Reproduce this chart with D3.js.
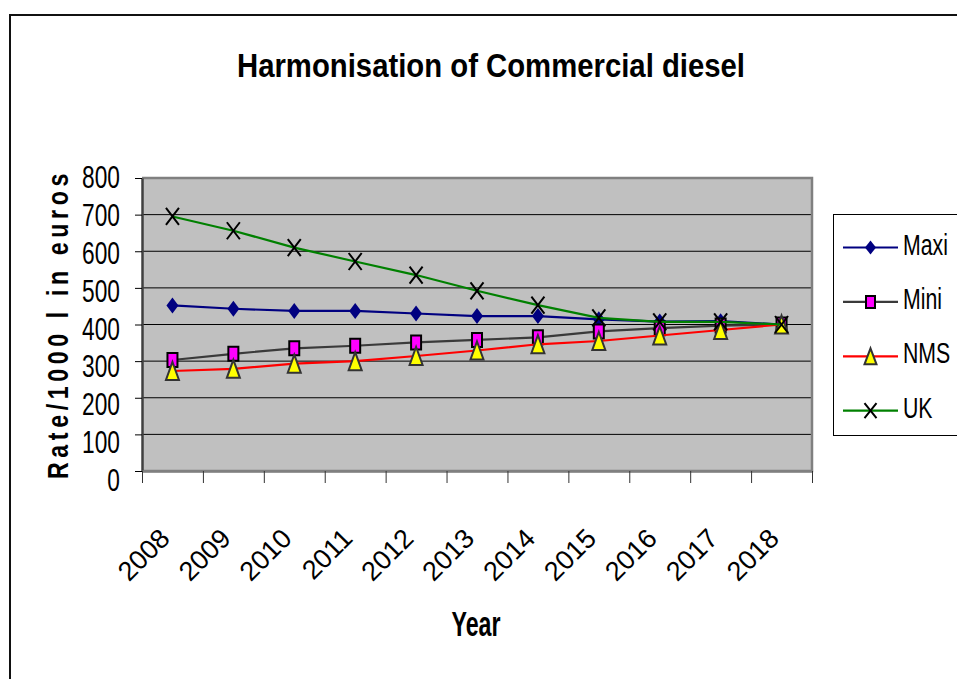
<!DOCTYPE html>
<html>
<head>
<meta charset="utf-8">
<script src="https://cdn.jsdelivr.net/npm/d3@7"></script>
<style>
  body { margin: 0; background: #fff; }
  svg { display: block; }
  text { font-family: "Liberation Sans", Arial, sans-serif; fill: #000; }
</style>
</head>
<body>
<svg id="chart"></svg>
<script>
const years = [2008, 2009, 2010, 2011, 2012, 2013, 2014, 2015, 2016, 2017, 2018];
const maxi = [452, 443, 437, 437, 430, 423, 423, 414, 408, 409, 400];
const mini = [303, 320, 335, 342, 351, 358, 365, 381, 390, 397, 400];
const nms = [273, 279, 293, 300, 314, 329, 346, 355, 370, 385, 400];
const uk = [695, 656, 610, 572, 535, 492, 453, 418, 407, 407, 400];
const seriesNames = ["Maxi", "Mini", "NMS", "UK"];
const yTicks = [0, 100, 200, 300, 400, 500, 600, 700, 800];

const width = 957;
const height = 679;
const plot = { left: 142, right: 812, top: 178, bottom: 471 };

// the original text is horizontally compressed: squeeze by a factor
function squeeze(sel, k) {
  sel.each(function () {
    const w = this.getComputedTextLength();
    d3.select(this).attr("textLength", w * k).attr("lengthAdjust", "spacingAndGlyphs");
  });
}
// or force to a given width
function fitTo(sel, w) {
  sel.attr("textLength", w).attr("lengthAdjust", "spacingAndGlyphs");
}

// marker shapes
const markers = {
  diamond: (w, h) => `M0,${-h / 2}L${w / 2},0L0,${h / 2}L${-w / 2},0Z`,
  square: (w, h) => `M${-w / 2},${-h / 2}h${w}v${h}h${-w}Z`,
  triangle: (w, h) => `M0,${-h / 2}L${w / 2},${h / 2}L${-w / 2},${h / 2}Z`,
  cross: (w, h) => `M${-w / 2},${-h / 2}L${w / 2},${h / 2}M${w / 2},${-h / 2}L${-w / 2},${h / 2}`,
};

const series = [
  { name: seriesNames[0], values: maxi, color: "#000080", shape: "diamond", w: 12, h: 16, fill: "#000080", stroke: "none" },
  { name: seriesNames[1], values: mini, color: "#3a3a3a", shape: "square", w: 10, h: 14, fill: "#ff00ff", stroke: "#000" },
  { name: seriesNames[2], values: nms, color: "#ff0000", shape: "triangle", w: 13, h: 18, fill: "#ffff00", stroke: "#333" },
  { name: seriesNames[3], values: uk, color: "#008000", shape: "cross", w: 13, h: 17, fill: "none", stroke: "#000" },
];

const svg = d3.select("#chart").attr("width", width).attr("height", height);

// outer frame
svg.append("path")
  .attr("d", `M10,${height}V15H${width}`)
  .attr("fill", "none")
  .attr("stroke", "#111")
  .attr("stroke-width", 2);

// scales
const xScale = d3.scaleBand().domain(years).range([plot.left, plot.right]);
const xEdge = d3.scaleLinear().domain([0, years.length]).range([plot.left, plot.right]);
const yScale = d3.scaleLinear().domain([0, 800]).range([plot.bottom, plot.top]);
const yLabelScale = d3.scaleLinear().domain([0, 800]).range([479, 176]);

// plot background
svg.append("rect")
  .attr("x", plot.left)
  .attr("y", plot.top)
  .attr("width", plot.right - plot.left)
  .attr("height", plot.bottom - plot.top)
  .attr("fill", "#c0c0c0");

// gridlines
svg.append("g")
  .selectAll("line")
  .data(yTicks.slice(1, -1))
  .enter()
  .append("line")
  .attr("x1", plot.left)
  .attr("x2", plot.right)
  .attr("y1", (d) => yScale(d))
  .attr("y2", (d) => yScale(d))
  .attr("stroke", "#000")
  .attr("stroke-width", 1);

// plot border (top / right / bottom)
svg.append("path")
  .attr("d", `M${plot.left},${plot.top}H${plot.right}V${plot.bottom}H${plot.left}`)
  .attr("fill", "none")
  .attr("stroke", "#808080")
  .attr("stroke-width", 2.5);

// y axis
const yAxis = d3.axisLeft(yScale).tickValues(yTicks).tickSize(7).tickPadding(15).tickSizeOuter(0);
const gy = svg.append("g")
  .attr("transform", `translate(${plot.left},0)`)
  .call(yAxis);
gy.select(".domain").attr("stroke", "#404040").attr("stroke-width", 2.5);
gy.selectAll(".tick line").attr("stroke", "#000");
gy.selectAll(".tick text")
  .attr("font-size", 32)
  .attr("font-family", null)
  .attr("dy", "0.36em")
  .attr("y", (d) => yLabelScale(d) - yScale(d))
  .call(squeeze, 0.71);

// x axis (ticks between categories)
const xAxis = d3.axisBottom(xEdge).tickValues(d3.range(years.length + 1)).tickSize(12).tickFormat("").tickSizeOuter(0);
const gx = svg.append("g")
  .attr("transform", `translate(0,${plot.bottom})`)
  .call(xAxis);
gx.select(".domain").attr("stroke", "#808080").attr("stroke-width", 2.5);
gx.selectAll(".tick line").attr("stroke", "#333");

svg.append("g")
  .selectAll("text")
  .data(years)
  .enter()
  .append("text")
  .attr("transform", (d) => `translate(${xScale(d) + xScale.bandwidth() / 2 - 1},540) rotate(-45)`)
  .attr("text-anchor", "end")
  .attr("font-size", 27)
  .text((d) => d);

// series
const line = d3.line()
  .x((d, i) => xScale(years[i]) + xScale.bandwidth() / 2)
  .y((d) => yScale(d));

series.forEach((s) => {
  const g = svg.append("g");
  g.append("path")
    .attr("d", line(s.values))
    .attr("fill", "none")
    .attr("stroke", s.color)
    .attr("stroke-width", 2.2);
  g.selectAll(".mk")
    .data(s.values)
    .enter()
    .append("path")
    .attr("class", "mk")
    .attr("transform", (d, i) => `translate(${xScale(years[i]) + xScale.bandwidth() / 2},${yScale(d)})`)
    .attr("d", markers[s.shape](s.w, s.h))
    .attr("fill", s.fill)
    .attr("stroke", s.stroke)
    .attr("stroke-width", 2);
});

// title
svg.append("text")
  .attr("x", 491)
  .attr("y", 77)
  .attr("text-anchor", "middle")
  .attr("font-size", 34)
  .attr("font-weight", "bold")
  .text("Harmonisation of Commercial diesel")
  .call(fitTo, 508);

// axis titles
svg.append("text")
  .attr("x", 476)
  .attr("y", 636)
  .attr("text-anchor", "middle")
  .attr("font-size", 35)
  .attr("font-weight", "bold")
  .text("Year")
  .call(fitTo, 49);

svg.append("text")
  .attr("transform", "translate(68,324) rotate(-90)")
  .attr("text-anchor", "middle")
  .attr("font-size", 30)
  .attr("font-weight", "bold")
  .attr("letter-spacing", 6)
  .text("Rate/1000 l in euros")
  .call(fitTo, 310);

// legend
const legend = svg.append("g");
legend.append("rect")
  .attr("x", 833.5)
  .attr("y", 214.5)
  .attr("width", 140)
  .attr("height", 221)
  .attr("fill", "#fff")
  .attr("stroke", "#000")
  .attr("stroke-width", 1);

const rows = legend.selectAll(".row")
  .data(series)
  .enter()
  .append("g")
  .attr("class", "row")
  .attr("transform", (d, i) => `translate(0,${247.5 + i * 54.4})`);

rows.append("line")
  .attr("x1", 843)
  .attr("x2", 898)
  .attr("stroke", (d) => d.color)
  .attr("stroke-width", 2.2);

rows.append("path")
  .attr("transform", "translate(870.5,0)")
  .attr("d", (d) => markers[d.shape](d.w - 1, d.h - 2))
  .attr("fill", (d) => d.fill)
  .attr("stroke", (d) => d.stroke)
  .attr("stroke-width", 2);

rows.append("text")
  .attr("transform", "translate(903,7) scale(0.71,1)")
  .attr("font-size", 30)
  .text((d) => d.name);
</script>
</body>
</html>
